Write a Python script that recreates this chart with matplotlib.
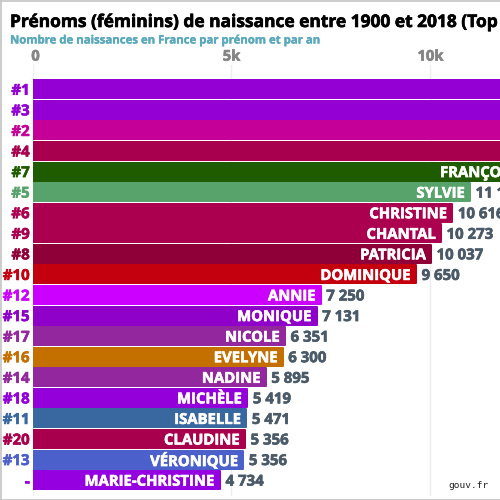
import matplotlib
matplotlib.use("Agg")
import matplotlib.pyplot as plt
import matplotlib.patheffects as pe
from matplotlib.transforms import ScaledTranslation

ranks = ["#1","#3","#2","#4","#7","#5","#6","#9","#8","#10","#12","#15","#17","#16","#14","#18","#11","#20","#13","-"]
names = ["","","","","FRANÇOISE","SYLVIE","CHRISTINE","CHANTAL","PATRICIA","DOMINIQUE","ANNIE","MONIQUE","NICOLE","EVELYNE","NADINE","MICHÈLE","ISABELLE","CLAUDINE","VÉRONIQUE","MARIE-CHRISTINE"]
bar_values = [20000,18000,16000,14000,12450,10992,10548,10263,10012,9636,7241,7140,6344,6286,5860,5397,5372,5339,5297,4711]
value_labels = ["","","","","","11 1","10 616","10 273","10 037","9 650","7 250","7 131","6 351","6 300","5 895","5 419","5 471","5 356","5 356","4 734"]
colors = ["#9400d3","#9400d3","#c40098","#a8004f","#1f5c00","#57a36b","#ab004f","#ab004f","#8f0039","#c4000f","#cc00ff","#8f00c9","#92279e","#c47000","#92279e","#9400d9","#38689f","#a8004c","#4c60cc","#9400e0"]
xticks = [0, 5000, 10000]
xticklabels = ["0", "5k", "10k"]

F = "Open Sans"
W = "bold"

def thick(color):
    return [pe.withStroke(linewidth=0.45, foreground=color)]

fig = plt.figure(figsize=(5, 5), dpi=100)
top_px, bot_px, pitch, first_px = 65.0, 496.0, 20.57, 79.0
ax = fig.add_axes([32.5/500, 1-bot_px/500, 467.5/500, (bot_px-top_px)/500])
ax.set_xlim(0, 467.5/39.8*1000)
ax.set_ylim((bot_px-first_px)/pitch-0.5, (top_px-first_px)/pitch-0.5)
for s in ax.spines.values():
    s.set_visible(False)
ax.set_yticks([])
ax.xaxis.tick_top()
ax.set_xticks(xticks)
ax.set_xticklabels(xticklabels, family=F, fontweight=W, fontsize=10.6, color="#858585")
ax.tick_params(axis="x", length=0, pad=1)
ax.get_xticklabels()[0].set_transform(ax.get_xticklabels()[0].get_transform() + ScaledTranslation(3/100, 0, fig.dpi_scale_trans))
for t in ax.get_xticklabels():
    t.set_path_effects(thick("#858585"))
ax.grid(axis="x", color="#eeeeee", lw=1)
ax.set_axisbelow(True)
ys = list(range(len(ranks)))
ax.barh(ys, bar_values, height=0.875, color=colors, edgecolor=colors, linewidth=1.44, joinstyle="round", zorder=2)
for y, r, n, b, v, c in zip(ys, ranks, names, bar_values, value_labels, colors):
    ax.annotate(r, (0, y), xytext=(-2, 0), textcoords="offset points", ha="right", va="center_baseline", family=F, fontweight=W, fontsize=10.8, color=c, annotation_clip=False, path_effects=thick(c))
    if n:
        ax.annotate(n, (b, y), xytext=(-3.5, 0), textcoords="offset points", ha="right", va="center_baseline", family=F, fontweight=W, fontsize=10.7, color="white", zorder=3, annotation_clip=False, path_effects=thick("white"))
    if v:
        ax.annotate(v, (b, y), xytext=(4, 0), textcoords="offset points", ha="left", va="center_baseline", family=F, fontweight=W, fontsize=10.8, color="#4a5a68", zorder=3, annotation_clip=False, path_effects=thick("#4a5a68"))
fig.text(10/500, 1-22/500, "Prénoms (féminins) de naissance entre 1900 et 2018 (Top 20)", family=F, fontweight=W, fontsize=12.5, color="black", va="center", ha="left", path_effects=thick("black"))
fig.text(10/500, 1-41/500, "Nombre de naissances en France par prénom et par an", family=F, fontweight=W, fontsize=8.2, color="#5aa9bd", va="center", ha="left", path_effects=[pe.withStroke(linewidth=0.25, foreground="#5aa9bd")])
fig.text(489/500, 1-486/500, "gouv.fr", family="DejaVu Sans Mono", fontsize=6.8, color="#222222", va="center", ha="right")
for art in [plt.Line2D([0,1],[0.999,0.999]), plt.Line2D([0,1],[0.001,0.001]), plt.Line2D([0.001,0.001],[0,1])]:
    art.set_color("#c4c4c4"); art.set_linewidth(1.2); art.set_transform(fig.transFigure); fig.add_artist(art)
fig.savefig("out.png", dpi=100)
